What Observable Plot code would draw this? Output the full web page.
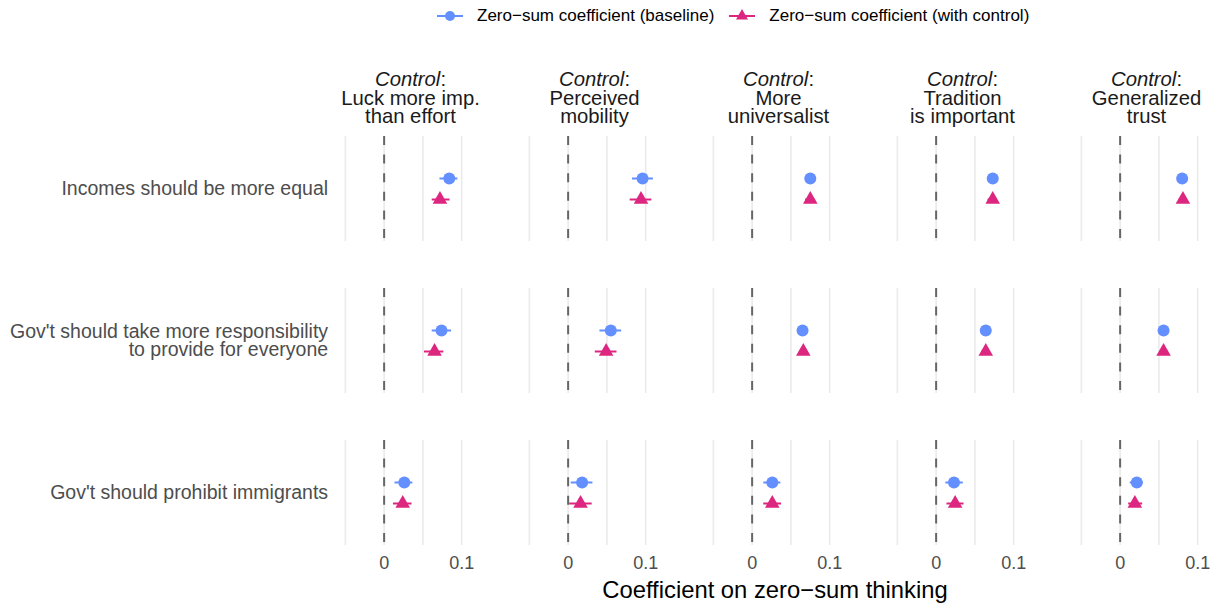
<!DOCTYPE html>
<html><head><meta charset="utf-8">
<script src="https://cdn.jsdelivr.net/npm/d3@7"></script>
<script src="https://cdn.jsdelivr.net/npm/@observablehq/plot@0.6"></script>
<style>
body{margin:0;background:#fff;font-family:"Liberation Sans",Arial,sans-serif;}
#wrap{width:1218px;height:605px;position:relative;overflow:hidden;background:#fff}
#legend{height:34px;display:flex;align-items:center;padding-left:437px;box-sizing:border-box;padding-bottom:2px;font-size:17px;color:#000}
.item{display:flex;align-items:center;margin-right:15px}
.item svg{margin-right:14px;display:block}
#chart svg{display:block}
#caption{height:30px;line-height:30px;font-size:23.8px;text-align:center;padding-left:332px;color:#000;white-space:nowrap}
</style></head>
<body><div id="wrap"><div id="legend"></div><div id="chart"></div><div id="caption"></div></div>
<script>
// ---- data ----
const controls = ["luck", "mobility", "universalist", "tradition", "trust"];
const controlLabels = ["Luck more imp.\nthan effort", "Perceived\nmobility", "More\nuniversalist", "Tradition\nis important", "Generalized\ntrust"];
const controlPrefix = "Control:";
const outcomes = ["Incomes should be more equal", "Gov't should take more responsibility\nto provide for everyone", "Gov't should prohibit immigrants"];
const seriesKeys = ["baseline", "control"];
const seriesNames = ["Zero\u2212sum coefficient (baseline)", "Zero\u2212sum coefficient (with control)"];
const seriesColors = ["#648FFF", "#DC267F"];
const axisTitle = "Coefficient on zero\u2212sum thinking";
const xDomain = [-0.055, 0.123];
const gridBreaks = [-0.05, 0, 0.05, 0.1];
const xTicks = [0, 0.1];
const xTickLabels = ["0", "0.1"];

// rows = outcomes, columns = controls
const baselineEst = [
  [0.084, 0.096, 0.075, 0.073, 0.080],
  [0.074, 0.055, 0.065, 0.064, 0.056],
  [0.026, 0.018, 0.026, 0.023, 0.0215]
];
const baselineLo = [
  [0.072, 0.083, 0.069, 0.067, 0.075],
  [0.062, 0.041, 0.060, 0.059, 0.051],
  [0.014, 0.004, 0.015, 0.0125, 0.013]
];
const baselineHi = [
  [0.095, 0.110, 0.081, 0.079, 0.085],
  [0.087, 0.069, 0.070, 0.069, 0.061],
  [0.037, 0.032, 0.037, 0.035, 0.030]
];
const controlEst = [
  [0.072, 0.094, 0.075, 0.073, 0.081],
  [0.065, 0.049, 0.066, 0.064, 0.056],
  [0.024, 0.016, 0.026, 0.0245, 0.019]
];
const controlLo = [
  [0.062, 0.080, 0.069, 0.067, 0.076],
  [0.052, 0.035, 0.061, 0.059, 0.051],
  [0.012, 0.002, 0.015, 0.014, 0.011]
];
const controlHi = [
  [0.085, 0.108, 0.081, 0.079, 0.086],
  [0.077, 0.063, 0.071, 0.069, 0.061],
  [0.036, 0.031, 0.038, 0.036, 0.029]
];

// ---- build table ----
const rows = [];
const sets = {baseline: [baselineEst, baselineLo, baselineHi], control: [controlEst, controlLo, controlHi]};
outcomes.forEach((o, i) => controls.forEach((c, j) => seriesKeys.forEach(s => {
  const [E, L, H] = sets[s];
  rows.push({outcome: o, control: c, series: s, est: E[i][j], lo: L[i][j], hi: H[i][j]});
})));

// ---- legend ----
const legend = d3.select("#legend");
seriesKeys.forEach((s, i) => {
  const it = legend.append("div").attr("class", "item");
  const sv = it.append("svg").attr("width", 26).attr("height", 20);
  sv.append("line").attr("x1", 0).attr("x2", 26).attr("y1", 10).attr("y2", 10)
    .attr("stroke", seriesColors[i]).attr("stroke-width", 2);
  sv.append("path").attr("transform", "translate(13,10)")
    .attr("d", d3.symbol(i === 0 ? d3.symbolCircle : d3.symbolTriangle, i === 0 ? Math.PI * 25 : 62)())
    .attr("fill", seriesColors[i]);
  it.append("span").text(seriesNames[i]);
});
d3.select("#caption").text(axisTitle);

// ---- chart ----
const plot = Plot.plot({
  width: 1218, height: 541,
  marginLeft: 341.4, marginRight: 2.65, marginTop: 101, marginBottom: 30,
  style: {fontFamily: "Liberation Sans, Arial, sans-serif", fontSize: "18px", background: "white", color: "black", overflow: "visible"},
  x: {domain: xDomain, axis: null},
  y: {domain: seriesKeys, axis: null, insetTop: 31.5, insetBottom: 31.5},
  fx: {domain: controls, paddingInner: 0.2503, paddingOuter: 0, axis: null},
  fy: {domain: outcomes, paddingInner: 0.3115, paddingOuter: 0, axis: null},
  color: {domain: seriesKeys, range: seriesColors},
  marks: [
    Plot.ruleX(gridBreaks, {stroke: "#EBEBEB", strokeWidth: 1.7}),
    Plot.ruleX([0], {stroke: "#666666", strokeWidth: 2, strokeDasharray: "9,9.6"}),
    Plot.ruleY(rows, {y: "series", x1: "lo", x2: "hi", fx: "control", fy: "outcome", stroke: "series", strokeWidth: 2}),
    Plot.dot(rows.filter(d => d.series === "baseline"), {x: "est", y: "series", fx: "control", fy: "outcome", symbol: "circle", r: 6, fill: "series"}),
    Plot.dot(rows.filter(d => d.series === "control"), {x: "est", y: "series", fx: "control", fy: "outcome", symbol: "triangle", r: 5.4, fill: "series"}),
    Plot.axisX({ticks: xTicks, tickFormat: d => xTickLabels[xTicks.indexOf(d)], tickSize: 0, tickPadding: 11, fontSize: 18, color: "#4d4d4d", label: null}),
    Plot.axisFx({anchor: "top", tickSize: 0, tickPadding: 13.5, fontSize: 20.3, lineHeight: 0.91, color: "#1a1a1a", label: null,
      tickFormat: d => controlPrefix + "\n" + controlLabels[controls.indexOf(d)]}),
    Plot.axisFy({anchor: "left", tickSize: 0, tickPadding: 13.4, fontSize: 19.5, lineHeight: 0.92, color: "#4d4d4d", label: null})
  ]
});
document.getElementById("chart").appendChild(plot);

// italicise "Control" in the strip labels
const ns = "http://www.w3.org/2000/svg";
plot.querySelectorAll("tspan, text").forEach(t => {
  if (t.childElementCount === 0 && t.textContent === controlPrefix) {
    t.textContent = "";
    const it = document.createElementNS(ns, "tspan");
    it.setAttribute("font-style", "italic");
    it.textContent = "Control";
    t.appendChild(it);
    t.appendChild(document.createTextNode(":"));
  }
});
</script>
</body></html>
